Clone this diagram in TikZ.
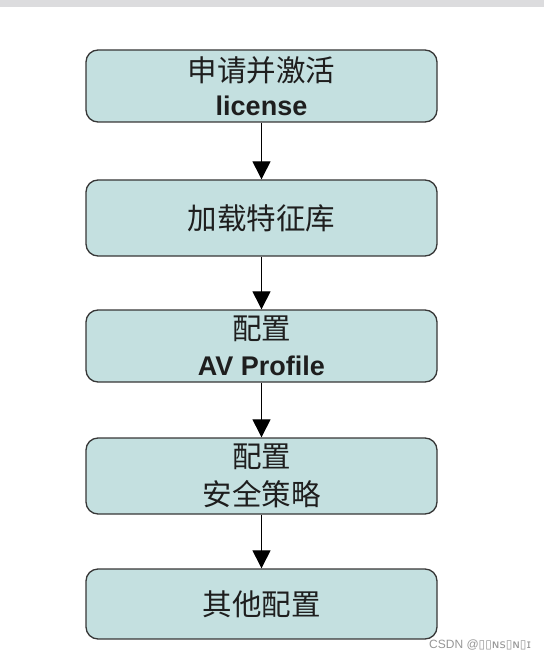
\documentclass[tikz,border=0pt]{standalone}
\usepackage{fontspec}
\setmainfont{Liberation Sans}
\newfontfamily\cjkfont{Noto Sans CJK SC}
\newcommand{\zh}[1]{{\cjkfont\fontsize{29.5}{37.5}\selectfont #1}}
\newfontfamily\dvs{DejaVu Sans}
\usetikzlibrary{arrows.meta}
\definecolor{boxfill}{RGB}{196,224,224}
\definecolor{boxline}{RGB}{55,55,55}
\definecolor{txt}{RGB}{30,30,30}
\definecolor{topbar}{RGB}{220,220,222}
\definecolor{wm}{RGB}{150,150,150}
\tikzset{
  stepbox/.style={draw=boxline, line width=1.3pt, fill=boxfill, rounded corners=12pt,
    minimum width=351pt, align=center, text=txt, inner sep=0pt,
    font=\fontsize{27}{37.5}\selectfont},
  flow/.style={draw=black, line width=1pt, -{Triangle[width=18pt,length=18pt]}}
}
\begin{document}
\begin{tikzpicture}[x=1pt,y=-1pt]
\useasboundingbox (0,0) rectangle (544,660);
\fill[topbar] (0,0) rectangle (544,7);
\node[stepbox, minimum height=72pt] (b1) at (261.5,86) {\zh{申请并激活}\\[-3pt]\bfseries license};
\node[stepbox, minimum height=76pt] (b2) at (261.5,218) {\zh{加载特征库}};
\node[stepbox, minimum height=72pt] (b3) at (261.5,346) {\zh{配置}\\[-2pt]\bfseries AV Profile};
\node[stepbox, minimum height=76pt] (b4) at (261.5,476) {\zh{配置}\\\zh{安全策略}};
\node[stepbox, minimum height=70pt] (b5) at (261.5,604) {\zh{其他配置}};
\draw[flow] (b1) -- (b2);
\draw[flow] (b2) -- (b3);
\draw[flow] (b3) -- (b4);
\draw[flow] (b4) -- (b5);
\node[anchor=west, text=wm, font=\fontsize{12}{12}\selectfont, inner sep=0pt] (wmark) at (429,645) {CSDN @{\dvs ▯▯ɴs▯ɴ▯ɪ}};
\end{tikzpicture}
\end{document}
